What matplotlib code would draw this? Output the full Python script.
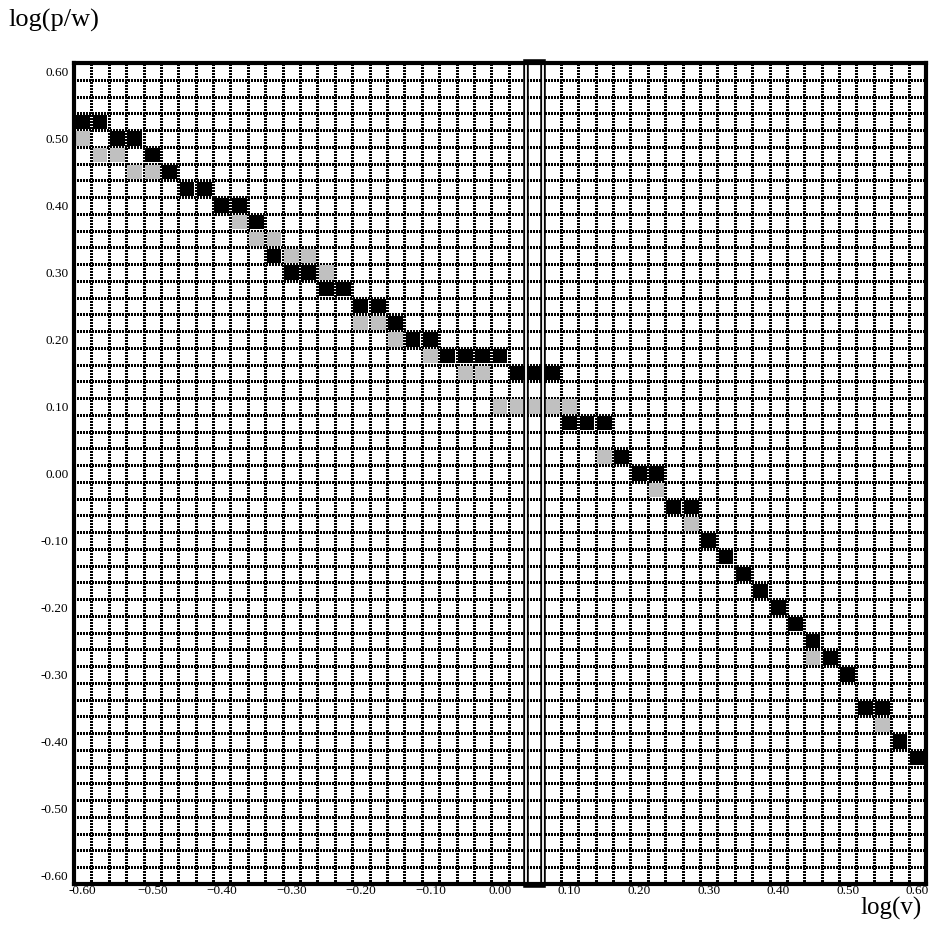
import numpy as np
import matplotlib
matplotlib.use('Agg')
import matplotlib.pyplot as plt
from matplotlib.patches import Rectangle

plt.rcParams['font.family'] = ['Liberation Serif', 'DejaVu Serif']
plt.rcParams['lines.scale_dashes'] = False

# cell size of the grid (log units)
step = 0.025

# black cells (centre x, centre y)
black_x = [-0.600, -0.575, -0.550, -0.525, -0.500, -0.475, -0.450, -0.425,
           -0.400, -0.375, -0.350, -0.325, -0.300, -0.275, -0.250, -0.225,
           -0.200, -0.175, -0.150, -0.125, -0.100, -0.075, -0.050, -0.025,
           0.000, 0.025, 0.050, 0.075, 0.100, 0.125, 0.150, 0.175,
           0.200, 0.225, 0.250, 0.275, 0.300, 0.325, 0.350, 0.375,
           0.400, 0.425, 0.450, 0.475, 0.500, 0.525, 0.550, 0.575, 0.600]
black_y = [0.525, 0.525, 0.500, 0.500, 0.475, 0.450, 0.425, 0.425,
           0.400, 0.400, 0.375, 0.325, 0.300, 0.300, 0.275, 0.275,
           0.250, 0.250, 0.225, 0.200, 0.200, 0.175, 0.175, 0.175,
           0.175, 0.150, 0.150, 0.150, 0.075, 0.075, 0.075, 0.025,
           0.000, 0.000, -0.050, -0.050, -0.100, -0.125, -0.150, -0.175,
           -0.200, -0.225, -0.250, -0.275, -0.300, -0.350, -0.350, -0.400, -0.425]

# gray cells
gray_x = [-0.600, -0.575, -0.550, -0.525, -0.500, -0.375, -0.350, -0.325,
          -0.300, -0.275, -0.250, -0.200, -0.175, -0.150, -0.100, -0.050,
          -0.025, 0.000, 0.025, 0.050, 0.075, 0.100, 0.150, 0.225,
          0.275, 0.450, 0.550]
gray_y = [0.500, 0.475, 0.475, 0.450, 0.450, 0.375, 0.350, 0.350,
          0.325, 0.325, 0.300, 0.225, 0.225, 0.200, 0.175, 0.150,
          0.150, 0.100, 0.100, 0.100, 0.100, 0.100, 0.025, -0.025,
          -0.075, -0.275, -0.375]

# highlighted column
highlight_x = 0.050

ticks = np.round(np.arange(-0.6, 0.61, 0.1), 2) + 0.0
xlabels = ['-0.60'] + [('\u2212%.2f' % abs(t)) if t < -0.001 else '%.2f' % abs(t) for t in ticks[1:]]
ylabels = [('-%.2f' % abs(t)) if t < -0.001 else '%.2f' % abs(t) for t in ticks]

lim = 0.6 + step / 2

fig = plt.figure(figsize=(9.31, 9.33), dpi=100)
ax = fig.add_axes([74 / 931, 1 - 884 / 933, 852 / 931, 821 / 933])
ax.set_xlim(-lim, lim)
ax.set_ylim(-lim, lim)

# dotted grid on the cell borders
edges = np.arange(-lim + step, lim - step / 2, step)
for e in edges:
    ax.axvline(e, color='black', linewidth=2.0, dashes=(0.9, 0.9),
               antialiased=False, zorder=1)
    ax.axhline(e, color='black', linewidth=2.0, dashes=(0.9, 0.9),
               antialiased=False, zorder=1)

ax.set_xticks(ticks)
ax.set_yticks(ticks)
ax.set_xticklabels(xlabels)
ax.set_yticklabels(ylabels)
ax.tick_params(which='both', length=0, labelsize=9.5)
ax.tick_params(axis='x', pad=1)
ax.tick_params(axis='y', pad=4)

size = 0.0213
for x, y in zip(gray_x, gray_y):
    ax.add_patch(Rectangle((x - size / 2, y - size / 2), size, size,
                           facecolor='#c0c0c0', edgecolor='none', zorder=2))
for x, y in zip(black_x, black_y):
    ax.add_patch(Rectangle((x - size / 2, y - size / 2), size, size,
                           facecolor='black', edgecolor='none', zorder=3))

# double-lined frame round the selected column
for lw, col in [(4.0, 'black'), (1.3, 'white')]:
    ax.add_patch(Rectangle((highlight_x - step / 2, -lim - 0.002), step, 2 * lim + 0.004,
                           facecolor='none', edgecolor=col, linewidth=lw,
                           clip_on=False, zorder=5))

for s in ax.spines.values():
    s.set_linewidth(3.0)
    s.set_zorder(6)

fig.text(8 / 931, 1 - 20 / 933, 'log(p/w)', fontsize=19, ha='left', va='center')
fig.text(922 / 931, 1 - 908 / 933, 'log(v)', fontsize=18, ha='right', va='center')

fig.savefig('out.png', dpi=100)
